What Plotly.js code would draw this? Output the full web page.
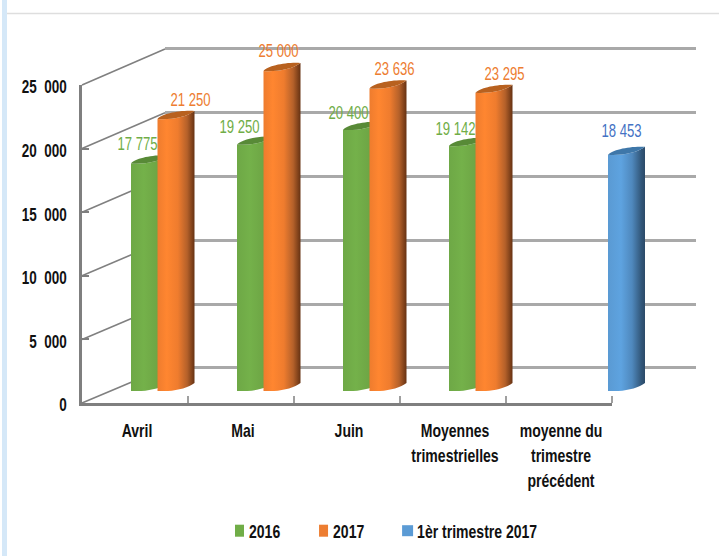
<!DOCTYPE html>
<html><head><meta charset="utf-8">
<script src="https://cdn.plot.ly/plotly-3.0.1.min.js"></script>
<style>html,body{margin:0;padding:0;background:#fff}</style></head>
<body><div id="chart" style="width:719px;height:556px"></div>
<script>
const categories = ["Avril","Mai","Juin","Moyennes<br>trimestrielles","moyenne du<br>trimestre<br>précédent"];
const values2016 = [17775,19250,20400,19142,null];
const values2017 = [21250,25000,23636,23295,null];
const valuesTrimestre = [null,null,null,null,18453];
const yTickValues = [0,5000,10000,15000,20000,25000];
const yTickText = ["0","5\u00a0\u00a0000","10\u00a0\u00a0000","15\u00a0\u00a0000","20\u00a0\u00a0000","25\u00a0\u00a0000"];
const seriesNames = ["2016","2017","1èr trimestre 2017"];

const W=719,H=556,FONT='"Liberation Sans",Arial,sans-serif';
const dx=p=>[p[0]/W,p[1]/W], dy=p=>[1-p[0]/H,1-p[1]/H];
const fmt=v=>String(v).replace(/(\d)(\d{3})$/,'$1\u00a0$2');
const col={g:'#70ad47',o:'#ed7d31',b:'#5b9bd5'};
const bw=0.349, off=0.25;
function bar(y,name,color,center){return {type:'bar',x:[0,1,2,3,4],y,name,xaxis:'x3',yaxis:'y3',width:bw,offset:center-bw/2,
  marker:{color,line:{width:0}},hoverinfo:'skip'};}
// empty traces keep the front plane and the back wall alive as subplots
const holder=(xa,ya)=>({type:'scatter',mode:'none',x:[0],y:[0],xaxis:xa,yaxis:ya,showlegend:false,hoverinfo:'skip'});
const traces=[holder('x','y'),holder('x2','y2'),bar(values2016,seriesNames[0],col.g,-off),bar(values2017,seriesNames[1],col.o,0),bar(valuesTrimestre,seriesNames[2],col.b,off)];

const frontY=v=>403-v*318/25000, backY=v=>368-v*319/25000;
const shapes=yTickValues.map(v=>({type:'line',xref:'paper',yref:'paper',layer:'below',
  x0:82/W,x1:165/W,y0:1-frontY(v)/H,y1:1-backY(v)/H,line:{color:'#808080',width:1.6}}));
shapes.push({type:'rect',xref:'paper',yref:'paper',layer:'below',x0:2/W,x1:7/W,y0:0,y1:1,fillcolor:'#d5e8f8',line:{width:0}});
shapes.push({type:'line',xref:'paper',yref:'paper',layer:'below',x0:7/W,x1:1,y0:1-13.5/H,y1:1-13.5/H,line:{color:'#dedede',width:1.5}});

function ann(v,xi,sx,sy,color){return {x:xi,y:v,xref:'x3',yref:'y3',text:fmt(v),showarrow:false,xshift:sx,yshift:sy,
  font:{family:FONT,size:18,color},xanchor:'center',yanchor:'middle'};}
const blue='#4472c4';
const anns=[
 ann(values2016[0],-off,-12.5,19,col.g),ann(values2016[1],1-off,-16.5,18,col.g),ann(values2016[2],2-off,-13,17,col.g),ann(values2016[3],3-off,-12,17,col.g),
 ann(values2017[0],0,14,19,col.o),ann(values2017[1],1,-4,20,col.o),ann(values2017[2],2,6,19,col.o),ann(values2017[3],3,10,19,col.o),
 ann(valuesTrimestre[4],4+off,-5,24,blue)];

const layout={width:W,height:H,margin:{l:0,r:0,t:0,b:0,pad:0},paper_bgcolor:'#fff',plot_bgcolor:'rgba(0,0,0,0)',barmode:'overlay',hovermode:false,
 showlegend:true,
 legend:{orientation:'h',x:219.5/W,xanchor:'left',y:1-531/H,yanchor:'middle',font:{family:FONT,size:18,color:'#111',weight:700},bgcolor:'rgba(0,0,0,0)',itemclick:false,itemdoubleclick:false},
 xaxis:{domain:dx([82,612]),range:[-0.5,4.5],type:'linear',tickmode:'array',tickvals:[0,1,2,3,4],ticktext:categories,tickangle:0,anchor:'y',showgrid:false,zeroline:false,
   showline:true,linecolor:'#7f7f7f',linewidth:2.5,ticks:'',tickfont:{family:FONT,size:18,color:'#111',weight:700},ticklabelstandoff:10},
 yaxis:{domain:dy([403,85]),range:[0,25000],tickmode:'array',tickvals:yTickValues,ticktext:yTickText,anchor:'x',showgrid:false,zeroline:false,
   showline:true,linecolor:'#7f7f7f',linewidth:2.5,ticks:'inside',ticklen:7,tickcolor:'#7f7f7f',tickwidth:1.5,tickfont:{family:FONT,size:18,color:'#111',weight:700},ticklabelstandoff:9},
 xaxis2:{domain:dx([165,696]),range:[0,1],visible:false,anchor:'y2'},
 yaxis2:{domain:dy([370.552,46.448]),range:[-200,25200],tickmode:'array',tickvals:yTickValues,anchor:'x2',showgrid:true,gridcolor:'#a9a9a9',gridwidth:2.5,zeroline:false,showline:false,showticklabels:false,ticks:''},
 xaxis3:{domain:dx([123,653]),range:[-0.5,4.5],visible:false,anchor:'y3',fixedrange:true},
 yaxis3:{domain:dy([391,45.4]),range:[0,27000],visible:false,anchor:'x3',fixedrange:true},
 shapes,annotations:anns};

const gd=document.getElementById('chart');
Plotly.newPlot(gd,traces,layout,{displayModeBar:false}).then(()=>{
  const NS='http://www.w3.org/2000/svg';
  const svg=gd.querySelector('.main-svg'), defs=svg.querySelector('defs');
  const grads={g:[[0,'#6ea846'],[.35,'#74b14a'],[.7,'#6ea645'],[1,'#4d7a30']],
    o:[[0,'#ee7c2e'],[.25,'#ff8630'],[.55,'#ef7c2e'],[.8,'#b5612a'],[1,'#663213']],
    b:[[0,'#5a9ad3'],[.35,'#5ea3e0'],[.65,'#4f88bd'],[.9,'#32577a'],[1,'#2c4a68']]};
  const topc={g:'#588a37',o:'#b8611f',b:'#3e77a9'};
  for(const k in grads){const g=document.createElementNS(NS,'linearGradient');g.setAttribute('id','cyl-'+k);
    grads[k].forEach(s=>{const st=document.createElementNS(NS,'stop');st.setAttribute('offset',s[0]);st.setAttribute('stop-color',s[1]);g.appendChild(st);});defs.appendChild(g);}
  const keys=['g','o','b'];
  gd.querySelectorAll('.barlayer .trace.bars').forEach((tr,i)=>{
    tr.querySelectorAll('.point path').forEach(p=>{
      const b=p.getBBox(); if(!b.width||!b.height) return;
      const x0=b.x,x1=b.x+b.width,t=b.y,base=b.y+b.height,w=b.width,r=8;
      p.setAttribute('d',`M${x0},${t}C${x0+w*.35},${t+1} ${x0+w*.8},${t-2} ${x1},${t-r}L${x1},${base-r}C${x0+w*.8},${base-2} ${x0+w*.35},${base+1} ${x0},${base}Z`);
      p.style.fill='url(#cyl-'+keys[i]+')';
      const top=document.createElementNS(NS,'path');
      top.setAttribute('d',`M${x0},${t}C${x0+w*.1},${t-5} ${x0+w*.6},${t-9} ${x1},${t-r}C${x0+w*.8},${t-2} ${x0+w*.35},${t+1} ${x0},${t}Z`);
      top.style.fill=topc[keys[i]];p.parentNode.appendChild(top);
    });
  });
  // boundary ticks of the category axis
  const xa=gd._fullLayout.xaxis,ya=gd._fullLayout.yaxis;
  const axLayer=gd.querySelector('.xaxislayer-above')||svg;
  [0,1,2,3,4].forEach(i=>{const l=document.createElementNS(NS,'line');const x=xa._offset+xa.l2p(i+0.5),y=ya._offset+ya.l2p(0);
    l.setAttribute('x1',x);l.setAttribute('x2',x);l.setAttribute('y1',y);l.setAttribute('y2',y-7);l.setAttribute('stroke','#7f7f7f');l.setAttribute('stroke-width','1.5');axLayer.appendChild(l);});
  // line spacing of tick labels
  gd.querySelectorAll('.xtick text').forEach(t=>{t.querySelectorAll('tspan.line').forEach((s,i)=>{s.setAttribute('dy',(i*25)+'px');});});
  // legend: narrower swatches, tighter text
  const slot=[0,-1,-2];
  gd.querySelectorAll('.legend .traces').forEach((tr,i)=>{
    const m=/translate\(([-\d.]+),\s*([-\d.]+)\)/.exec(tr.getAttribute('transform')||'');
    if(m)tr.setAttribute('transform',`translate(${+m[1]+slot[i]},${m[2]})`);
    const sw=tr.querySelector('.legendpoints path, .legendsymbols path');
    if(sw)sw.setAttribute('d',i<2?'M4.5,6H-4.5V-6H4.5Z':'M5.5,5.5H-5.5V-5.5H5.5Z');
    const tx=tr.querySelector('text.legendtext');
    if(tx){tx.setAttribute('x',+tx.getAttribute('x')-10.5);
      tx.querySelectorAll('tspan').forEach(s=>s.setAttribute('x',tx.getAttribute('x')));}
  });
  const clip=gd.querySelector('.legend .scrollbox');if(clip)clip.removeAttribute('clip-path');
  // condensed lettering: horizontal squeeze around each text's own anchor
  const squeeze=(sel,k,sh,sv)=>gd.querySelectorAll(sel).forEach(t=>{
    const ax=+t.getAttribute('x')||0,old=t.getAttribute('transform')||'';
    t.setAttribute('transform',`${old} translate(${ax+sh},${sv}) scale(${k},1) translate(${-ax},0)`);
  });
  squeeze('.xtick text',0.78,2,0);
  squeeze('.ytick text',0.75,0,2);
  squeeze('.annotation-text',0.73,0,0);
  squeeze('text.legendtext',0.78,0,0);
});
</script></body></html>
